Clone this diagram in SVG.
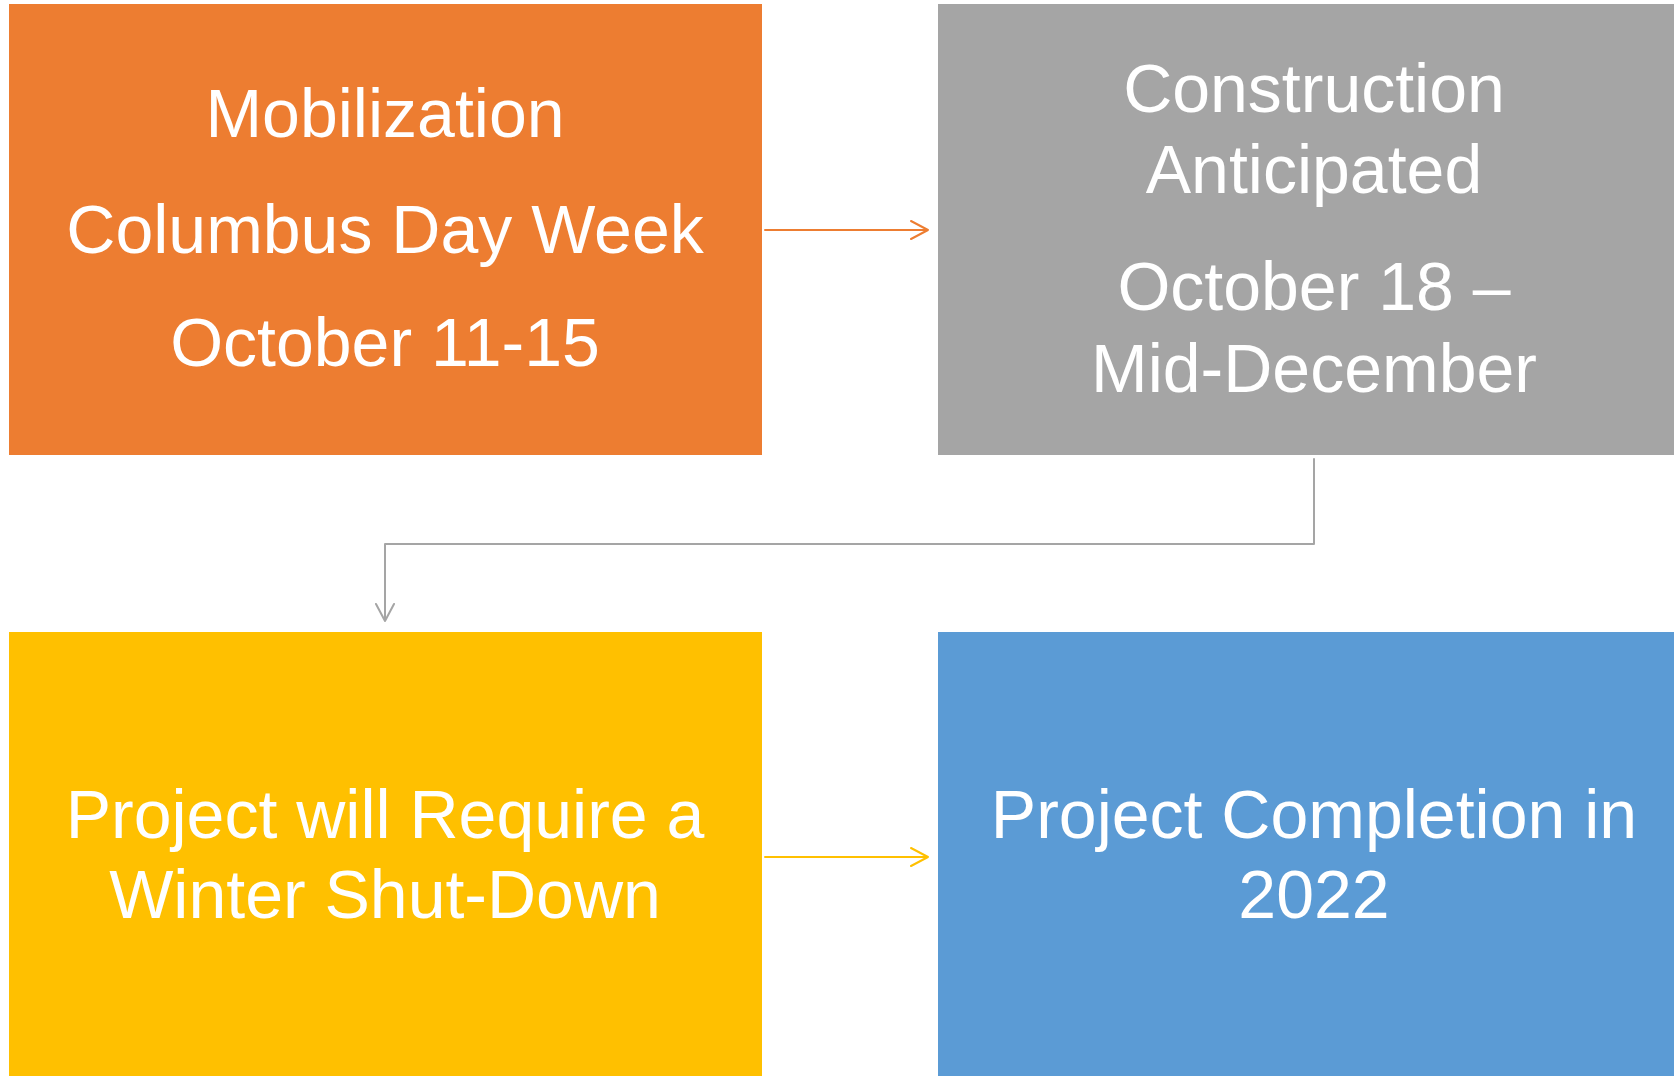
<svg xmlns="http://www.w3.org/2000/svg" width="1674" height="1076" viewBox="0 0 1674 1076">
<style>
.lbl{font-family:"Liberation Sans",Arial,sans-serif;font-size:68px;fill:#fff;text-anchor:middle}
.c{fill:none;stroke-width:2;stroke-linecap:round;stroke-linejoin:round}
</style>
<rect width="1674" height="1076" fill="#fff"/>
<g id="n-mobilization">
<rect x="9" y="4" width="753" height="451" fill="#ED7D31"/>
<text class="lbl" x="385" y="137">Mobilization</text>
<text class="lbl" x="385" y="253">Columbus Day Week</text>
<text class="lbl" x="385" y="366">October 11-15</text>
</g>
<g id="n-construction">
<rect x="938" y="4" width="753" height="451" fill="#A5A5A5"/>
<text class="lbl" x="1314" y="112">Construction</text>
<text class="lbl" x="1314" y="193">Anticipated</text>
<text class="lbl" x="1314" y="310">October 18 –</text>
<text class="lbl" x="1314" y="392">Mid-December</text>
</g>
<g id="n-shutdown">
<rect x="9" y="632" width="753" height="451" fill="#FFC000"/>
<text class="lbl" x="385" y="838">Project will Require a</text>
<text class="lbl" x="385" y="918">Winter Shut-Down</text>
</g>
<g id="n-completion">
<rect x="938" y="632" width="753" height="451" fill="#5B9BD5"/>
<text class="lbl" x="1314" y="838">Project Completion in</text>
<text class="lbl" x="1314" y="918">2022</text>
</g>
<g id="connectors">
<path class="c" stroke="#ED7D31" d="M765,230 H928 M911,221 L928,230 L911,239"/>
<path class="c" stroke="#A5A5A5" d="M1314,459 V544 H385 V621 M376,604 L385,621 L394,604"/>
<path class="c" stroke="#FFC000" d="M765,857 H928 M911,848 L928,857 L911,866"/>
</g>
</svg>
